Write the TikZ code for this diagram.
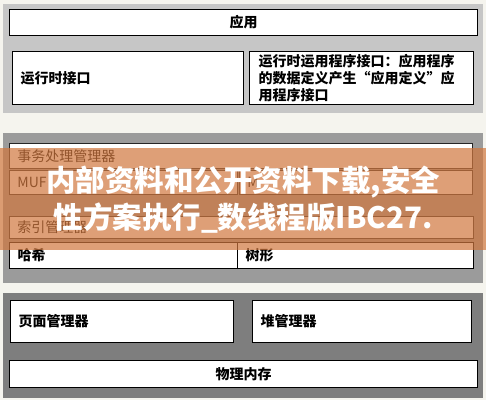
\documentclass[tikz,border=0pt]{standalone}
\usepackage{fontspec}
\setmainfont{Noto Sans CJK SC}
\newfontfamily\cjk{Noto Sans CJK SC}
\definecolor{bgc}{RGB}{245,244,238}
\definecolor{pone}{RGB}{198,198,198}
\definecolor{ptwo}{RGB}{155,155,155}
\definecolor{pthree}{RGB}{126,126,126}
\definecolor{banc}{RGB}{208,119,62}
\tikzset{
  panel/.style={draw=none, anchor=north west, inner sep=0pt},
  cbox/.style={draw=black, line width=1pt, fill=white, anchor=north west, inner sep=0pt, align=center,
    font=\cjk\bfseries\fontsize{14}{17}\selectfont},
  lbox/.style={draw=black, line width=1pt, fill=white, anchor=north west, inner xsep=8pt, inner ysep=0pt, align=left,
    font=\cjk\bfseries\fontsize{14}{17}\selectfont},
  mbox/.style={draw=black!85, line width=0.8pt, fill=white, anchor=north west, inner xsep=8pt, inner ysep=0pt, align=left,
    font=\cjk\fontsize{14}{17}\selectfont},
}
\begin{document}
\begin{tikzpicture}[x=1pt,y=-1pt]
\useasboundingbox (0,0) rectangle (486,400);
\fill[bgc] (0,0) rectangle (486,400);
% panels
\node[panel, fill=pone, minimum width=480pt, minimum height=109pt] (ptop) at (3,4) {};
\node[panel, fill=ptwo, minimum width=480pt, minimum height=150pt] (pmid) at (3,133) {};
\node[panel, fill=pthree, minimum width=480pt, minimum height=105pt] (pbot) at (3,293) {};
% top panel
\node[cbox, minimum width=468pt, minimum height=26pt] (app) at (9,9) {应用};
\node[lbox, text width=215pt, minimum height=53pt] (rt) at (12,51) {运行时接口};
\node[lbox, inner xsep=9pt, text width=206pt, minimum height=53pt] (rtapi) at (249,51)
  {运行时运用程序接口：应用程序\\的数据定义产生“应用定义”应\\用程序接口};
% middle panel
\node[mbox, text width=447pt, minimum height=25pt] (tm) at (9,143) {事务处理管理器};
\node[mbox, text width=212pt, minimum height=24pt] (mufl) at (9,170) {MUF};
\node[mbox, text width=217pt, minimum height=24pt] (mufr) at (239,170) {M};
\node[mbox, text width=448pt, minimum height=22pt] (idx) at (9,216) {索引管理器};
\node[lbox, text width=212pt, minimum height=26pt] (hash) at (9,242) {哈希};
\node[lbox, text width=220pt, minimum height=26pt] (tree) at (237,242) {树形};
% bottom panel
\node[lbox, text width=207pt, minimum height=42pt] (page) at (10,300) {页面管理器};
\node[lbox, text width=203pt, minimum height=42pt] (heap) at (252,300) {堆管理器};
\node[cbox, minimum width=468pt, minimum height=27pt] (phys) at (9,360) {物理内存};
% banner overlay
\node[panel, fill=banc, fill opacity=0.7, text opacity=1, text=white, minimum width=486pt, minimum height=102pt,
  align=center, font=\cjk\bfseries\fontsize{29.5}{37}\selectfont] (banner) at (0,148)
  {内部资料和公开资料下载,安全\\性方案执行\_数线程版IBC27.};
\end{tikzpicture}
\end{document}
